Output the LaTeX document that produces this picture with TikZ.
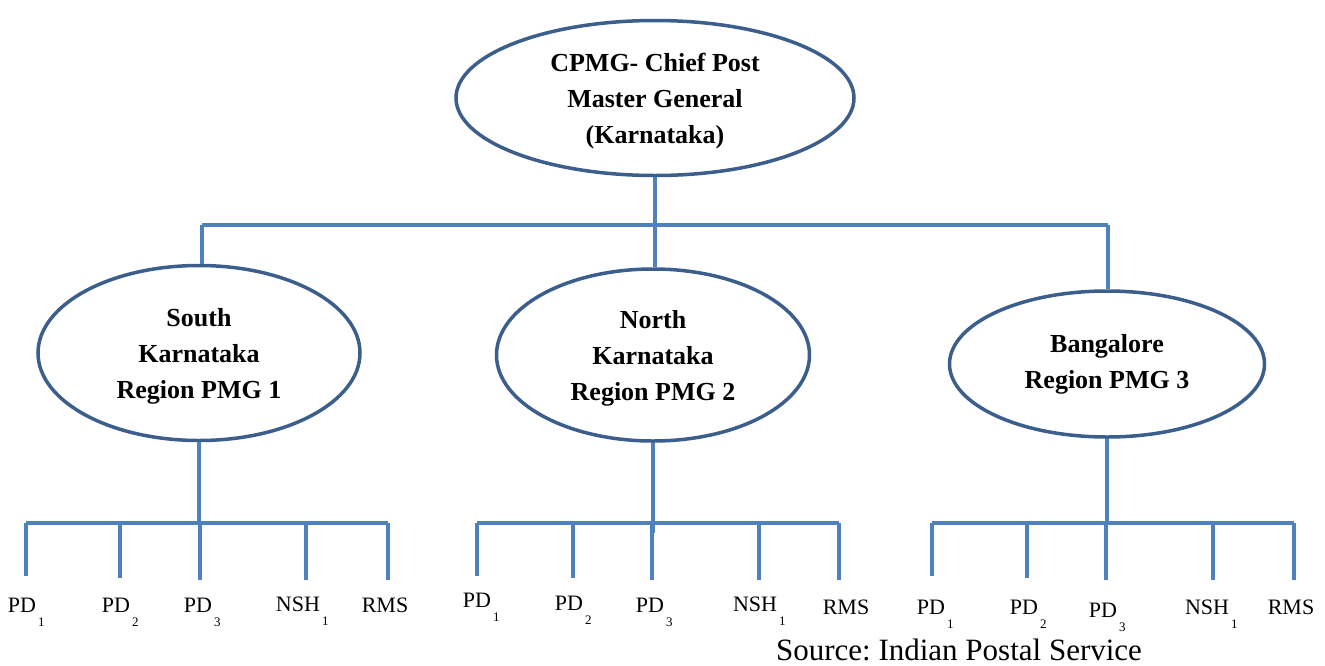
\documentclass[tikz,border=0pt]{standalone}
\usepackage{fontspec}
\setmainfont{Liberation Serif}
\usetikzlibrary{shapes.geometric}
\definecolor{rimblue}{HTML}{3B5E8C}
\definecolor{linkblue}{HTML}{4F81BD}
% unit label with a deep-set subscript that does not shift the centring
\newcommand{\unitlbl}[2]{#1\rlap{\kern2pt\raisebox{-14pt}{\fontsize{13}{13}\selectfont #2}}}
\begin{document}
\frenchspacing
\begin{tikzpicture}[x=1pt,y=-1pt,
  office/.style={ellipse, draw=rimblue, line width=3.5pt, fill=white, inner sep=0pt},
  officetext/.style={align=center, inner sep=0pt, font=\fontsize{26}{36}\selectfont\bfseries},
  link/.style={draw=linkblue, line width=4.5pt},
  unit/.style={anchor=base, inner sep=0pt, font=\fontsize{22}{22}\selectfont}]
\useasboundingbox (0,0) rectangle (1325,665);

% offices
\node[office, minimum width=398pt, minimum height=155pt] (cpmg) at (655,98) {};
\node[office, minimum width=322pt, minimum height=175pt] (south) at (199,353) {};
\node[office, minimum width=313pt, minimum height=172pt] (north) at (653,355) {};
\node[office, minimum width=315pt, minimum height=146pt] (blr) at (1107,364) {};
\node[officetext] (cpmg-t) at ([yshift=-3pt]cpmg.center) {CPMG- Chief Post\\Master General\\(Karnataka)};
\node[officetext] (south-t) at ([yshift=-3pt]south.center) {South\\Karnataka\\Region PMG 1};
\node[officetext] (north-t) at ([yshift=-3pt]north.center) {North\\Karnataka\\Region PMG 2};
\node[officetext] (blr-t) at (blr.center) {Bangalore\\Region PMG 3};

% top-level branches
\coordinate (tL) at (202,225);
\coordinate (tR) at (1108,225);
\draw[link] (cpmg.south) -- (cpmg.south |- north.north);
\draw[link] (tL) -- (tR);
\draw[link] (tL) -- (tL |- south.north);
\draw[link] (tR) -- (tR |- blr.north);

% unit rows: bar ends and drops
\foreach \r/\xa/\xb/\xc/\xd/\xe in {s/26/120/200/306/388, n/477/573/652/759/839, b/932/1027/1106/1213/1294}{
  \coordinate (\r-1) at (\xa,523);
  \coordinate (\r-2) at (\xb,523);
  \coordinate (\r-3) at (\xc,523);
  \coordinate (\r-4) at (\xd,523);
  \coordinate (\r-5) at (\xe,523);
  \draw[link] (\r-1) -- (\r-5);
  \draw[link] (\r-1) -- ++(0,53);
  \draw[link] (\r-2) -- ++(0,55);
  \draw[link] (\r-3) -- ++(0,57);
  \draw[link] (\r-4) -- ++(0,57);
  \draw[link] (\r-5) -- ++(0,57);
}
\draw[link] (south.south) -- (south.south |- s-1);
\draw[link] (north.south) -- ([yshift=-10pt]north.south |- n-1);
\draw[link] (blr.south) -- (blr.south |- b-1);

% south units
\node[unit] (s-pd1) at (22,612) {\unitlbl{PD}{1}};
\node[unit] (s-pd2) at (116,612) {\unitlbl{PD}{2}};
\node[unit] (s-pd3) at (198,612) {\unitlbl{PD}{3}};
\node[unit] (s-nsh) at (298,611) {\unitlbl{NSH}{1}};
\node[unit] (s-rms) at (385,612) {RMS};
% north units
\node[unit] (n-pd1) at (477,607) {\unitlbl{PD}{1}};
\node[unit] (n-pd2) at (569,610) {\unitlbl{PD}{2}};
\node[unit] (n-pd3) at (650,612) {\unitlbl{PD}{3}};
\node[unit] (n-nsh) at (755,611) {\unitlbl{NSH}{1}};
\node[unit] (n-rms) at (846,614) {RMS};
% bangalore units
\node[unit] (b-pd1) at (931,614) {\unitlbl{PD}{1}};
\node[unit] (b-pd2) at (1024,614) {\unitlbl{PD}{2}};
\node[unit] (b-pd3) at (1103,617) {\unitlbl{PD}{3}};
\node[unit] (b-nsh) at (1207,614) {\unitlbl{NSH}{1}};
\node[unit] (b-rms) at (1291,614) {RMS};

\node[anchor=base, inner sep=0pt, font=\fontsize{31}{31}\selectfont] (src) at (959,660)
  {Source: Indian Postal Service};
\end{tikzpicture}
\end{document}
